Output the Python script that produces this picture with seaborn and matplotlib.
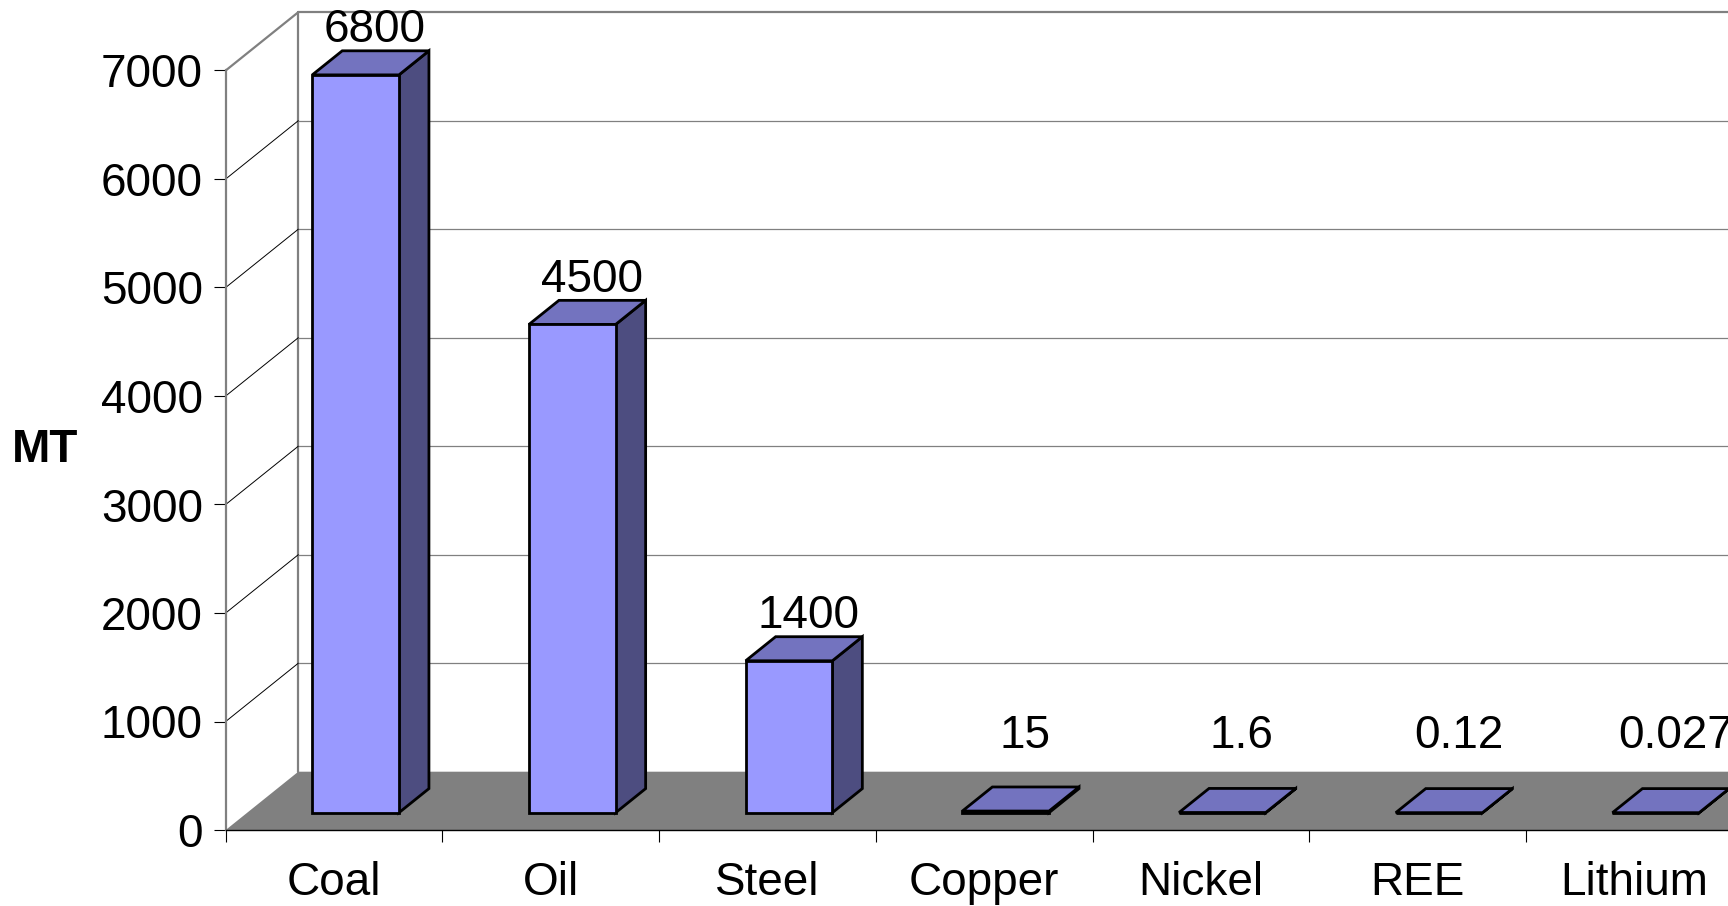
import matplotlib
matplotlib.use("Agg")
import matplotlib.pyplot as plt
import seaborn as sns
import pandas as pd
from matplotlib.patches import Polygon

categories = ["Coal", "Oil", "Steel", "Copper", "Nickel", "REE", "Lithium"]
values = [6800, 4500, 1400, 15, 1.6, 0.12, 0.027]
value_labels = ["6800", "4500", "1400", "15", "1.6", "0.12", "0.027"]
y_ticks = [0, 1000, 2000, 3000, 4000, 5000, 6000, 7000]
y_label = "MT"

sns.set_theme(style="white")
plt.rcParams["font.family"] = ["Liberation Sans", "DejaVu Sans"]
plt.rcParams["text.color"] = "black"
plt.rcParams["axes.labelcolor"] = "black"

W, H = 1728, 906
fig = plt.figure(figsize=(W / 100, H / 100), dpi=100)
fig.patch.set_facecolor("white")

# layout (pixels)
ax_left_px, ax_bottom_px = 225.7, 830.0
cat_px = 216.7
unit_px = 0.1085
ax = fig.add_axes([ax_left_px / W, (H - ax_bottom_px) / H,
                   (W - ax_left_px) / W, ax_bottom_px / H])
xmin = -0.5
xmax = xmin + (W - ax_left_px) / cat_px
ymax = ax_bottom_px / unit_px
DX = 72.6 / cat_px      # depth of the 3D box, category units
DY = 58.3 / unit_px     # depth of the 3D box, value units
f0, f1 = 0.297, 0.71    # bar front / back depth fractions
bar_w = 0.4
gray = "#808080"
front_c, top_c, side_c = "#9999ff", "#7373bf", "#4d4d80"
ytop = y_ticks[-1]
fs = 33
elw = 2.0

# back wall gridlines
for v in y_ticks[1:-1]:
    ax.plot([xmin + DX, xmax + DX], [v + DY, v + DY], color=gray, lw=0.9, zorder=1)
ax.plot([xmin + DX, xmax + DX], [ytop + DY, ytop + DY], color=gray, lw=1.6, zorder=1,
        clip_on=False)
ax.plot([xmin + DX, xmin + DX], [DY, ytop + DY], color=gray, lw=1.6, zorder=1)
# left wall diagonals
for v in y_ticks[1:-1]:
    ax.plot([xmin, xmin + DX], [v, v + DY], color="black", lw=0.7, zorder=1)
ax.plot([xmin, xmin + DX], [ytop, ytop + DY], color=gray, lw=1.6, zorder=1)
# floor
ax.add_patch(Polygon([(xmin, 0), (xmin + DX, DY), (xmax + DX + 1, DY), (xmax + 1, 0)],
                     closed=True, facecolor=gray, edgecolor="none", zorder=2))

df = pd.DataFrame({"category": categories, "value": values})
sns.barplot(data=df, x="category", y="value", color=front_c, saturation=1,
            width=bar_w, edgecolor="black", linewidth=elw, ax=ax, zorder=5)

bdx, bdy = (f1 - f0) * DX, (f1 - f0) * DY
for i, p in enumerate(ax.patches[-len(values):]):
    p.set_x(p.get_x() + f0 * DX)
    p.set_y(p.get_y() + f0 * DY)
    p.set_joinstyle("miter")
    x0 = p.get_x()
    x1 = x0 + p.get_width()
    yb = p.get_y()
    yt = yb + p.get_height()
    side = Polygon([(x1, yb), (x1, yt), (x1 + bdx, yt + bdy), (x1 + bdx, yb + bdy)],
                   closed=True, facecolor=side_c, edgecolor="black", lw=elw,
                   joinstyle="miter", zorder=4)
    top = Polygon([(x0, yt), (x1, yt), (x1 + bdx, yt + bdy), (x0 + bdx, yt + bdy)],
                  closed=True, facecolor=top_c, edgecolor="black", lw=elw,
                  joinstyle="miter", zorder=4)
    ax.add_patch(side)
    ax.add_patch(top)
    ax.annotate(value_labels[i], xy=(i + 0.5 * (f0 + f1) * DX + 0.02, max(values[i], 300) + f1 * DY),
                xytext=(0, 6), textcoords="offset points", ha="center", va="baseline",
                fontsize=fs, color="black", annotation_clip=False, zorder=6)

ax.grid(False)

# spines
for s in ["top", "right"]:
    ax.spines[s].set_visible(False)
ax.spines["left"].set_bounds(0, ytop)
ax.spines["left"].set_color(gray)
ax.spines["left"].set_linewidth(1.6)
ax.spines["left"].set_zorder(3)
ax.spines["bottom"].set_color("black")
ax.spines["bottom"].set_linewidth(1.0)
ax.spines["bottom"].set_zorder(3)

# y axis
ax.set_yticks(y_ticks)
ax.set_yticklabels([str(t) for t in y_ticks])
ax.tick_params(axis="y", which="major", left=True, length=8.5, width=0.8, color="black",
               pad=8, labelsize=fs, labelcolor="black")
ax.set_ylabel(y_label, rotation=0, fontsize=fs, fontweight="bold", ha="center", va="center",
              color="black")
ax.yaxis.set_label_coords((44.7 - ax_left_px) / (W - ax_left_px), (ax_bottom_px - 449.5) / ax_bottom_px)

# x axis
ax.set_xticks(range(len(categories)))
ax.set_xticklabels(categories)
ax.set_xticks([i - 0.5 for i in range(len(categories) + 1)], minor=True)
ax.tick_params(axis="x", which="major", bottom=True, length=0, pad=22, labelsize=fs,
               labelcolor="black")
ax.tick_params(axis="x", which="minor", bottom=True, length=8.6, width=0.8, color="black")
ax.set_xlabel("")

# limits last (setting ticks can expand the view)
ax.set_xlim(xmin, xmax)
ax.set_ylim(0, ymax)

fig.savefig("out.png", dpi=100, facecolor="white")
